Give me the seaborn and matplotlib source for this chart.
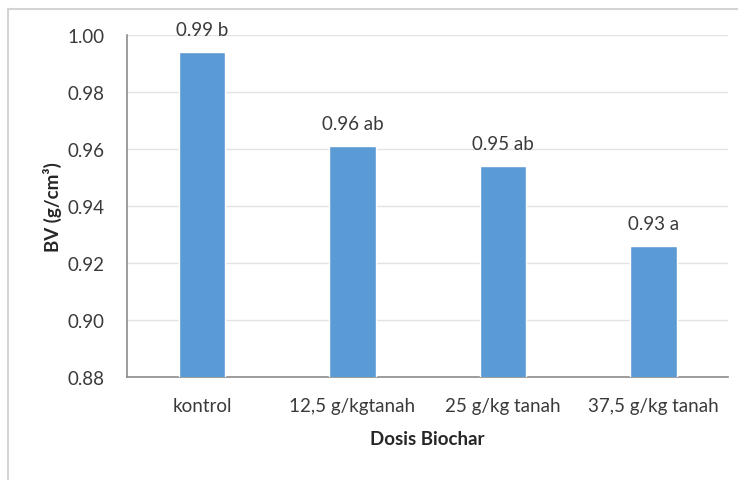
import matplotlib
matplotlib.use("Agg")
import matplotlib.pyplot as plt
from matplotlib.lines import Line2D
import pandas as pd
import seaborn as sns

# Bulk density (BV) per biochar dose
categories = ["kontrol", "12,5 g/kgtanah", "25 g/kg tanah", "37,5 g/kg tanah"]
bv_values = [0.994, 0.961, 0.954, 0.926]
letters = ["b", "ab", "ab", "a"]
y_ticks = [0.88, 0.90, 0.92, 0.94, 0.96, 0.98, 1.00]

sns.set_theme(style="white")
plt.rcParams["font.family"] = ["Lato", "DejaVu Sans"]

df = pd.DataFrame({"dosis": categories, "bv": bv_values})

fig = plt.figure(figsize=(7.38, 4.81), dpi=100)
ax = fig.add_axes([0.172, 0.214, 0.815, 0.711])

sns.barplot(data=df, x="dosis", y="bv", color="#5B9BD5", saturation=1,
            width=0.31, ax=ax, zorder=3)

ax.set_ylim(0.88, 1.00)
ax.set_yticks(y_ticks)
ax.set_yticklabels([f"{t:.2f}" for t in y_ticks])
ax.set_xlim(-0.5, len(categories) - 0.5)

ax.grid(axis="y", color="#e3e3e3", linewidth=1.0, zorder=0)
ax.grid(axis="x", visible=False)
for side in ["top", "right"]:
    ax.spines[side].set_visible(False)
for side in ["left", "bottom"]:
    ax.spines[side].set_color("#8c8c8c")
    ax.spines[side].set_linewidth(1.2)

text_color = "#3a3a3a"
fs = 13.5
ax.tick_params(axis="both", length=0, labelsize=fs, colors=text_color)
ax.tick_params(axis="x", pad=14)
ax.tick_params(axis="y", pad=16)

ax.set_xlabel("Dosis Biochar", fontsize=fs, fontweight="bold",
              color="#262626", labelpad=12)
ax.set_ylabel("BV (g/cm³)", fontsize=fs, fontweight="bold",
              color="#262626", labelpad=4)

for patch, val, let in zip(ax.patches, bv_values, letters):
    x = patch.get_x() + patch.get_width() / 2
    ax.annotate(f"{val:.2f} {let}", (x, patch.get_height()),
                xytext=(0, 10), textcoords="offset points",
                ha="center", va="bottom", fontsize=fs,
                color=text_color, annotation_clip=False)

# thin frame lines along the top and left edge
frame_color = "#d4d4d4"
x0 = 8 / 738
y0 = 1 - 10 / 481
fig.add_artist(Line2D([x0, 1.0], [y0, y0], transform=fig.transFigure,
                      color=frame_color, linewidth=1.5))
fig.add_artist(Line2D([x0, x0], [0.0, y0], transform=fig.transFigure,
                      color=frame_color, linewidth=1.5))

fig.savefig("out.png", dpi=100, facecolor="white")
